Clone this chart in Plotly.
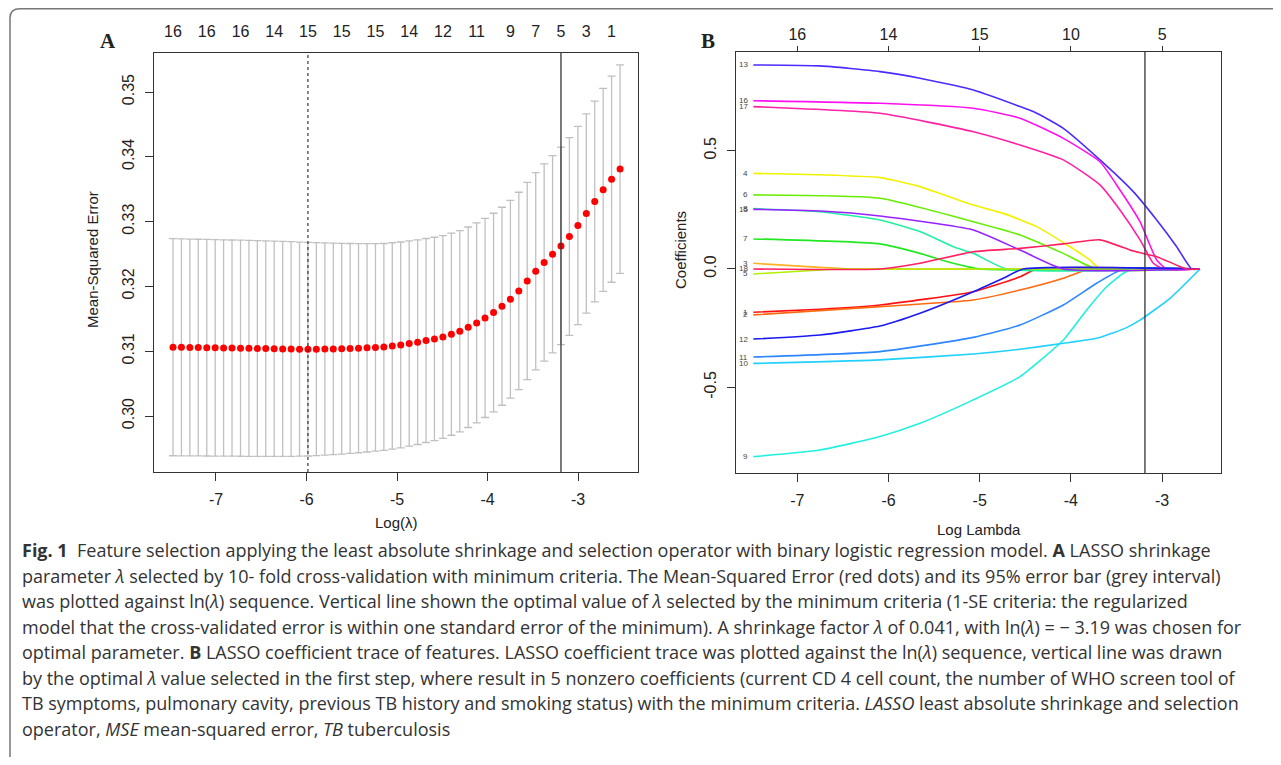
import plotly.graph_objects as go

# ---- Panel A: cross-validation curve ----
log_lambda = [-7.475, -7.382, -7.289, -7.196, -7.102, -7.009, -6.916, -6.823, -6.729, -6.636,
              -6.543, -6.450, -6.357, -6.263, -6.170, -6.077, -5.984, -5.891, -5.797, -5.704,
              -5.611, -5.518, -5.425, -5.331, -5.238, -5.145, -5.052, -4.959, -4.865, -4.772,
              -4.679, -4.586, -4.493, -4.399, -4.306, -4.213, -4.120, -4.027, -3.933, -3.840,
              -3.747, -3.654, -3.561, -3.467, -3.374, -3.281, -3.188, -3.095, -3.001, -2.908,
              -2.815, -2.722, -2.629, -2.535]
mse = [0.31062, 0.31060, 0.31058, 0.31056, 0.31054, 0.31052, 0.31050, 0.31048, 0.31046, 0.31044,
       0.31042, 0.31040, 0.31038, 0.31036, 0.31034, 0.31032, 0.31031, 0.31032, 0.31033, 0.31035,
       0.31038, 0.31042, 0.31047, 0.31053, 0.31059, 0.31066, 0.31082, 0.31097, 0.31119, 0.31139,
       0.31165, 0.31190, 0.31220, 0.31262, 0.31309, 0.31370, 0.31437, 0.31514, 0.31597, 0.31694,
       0.31802, 0.31930, 0.32085, 0.32235, 0.32369, 0.32497, 0.32625, 0.32770, 0.32940, 0.33125,
       0.33310, 0.33490, 0.33654, 0.33810]
mse_sd = [0.01675, 0.01674, 0.01673, 0.01672, 0.01671, 0.01670, 0.01669, 0.01668, 0.01667, 0.01666,
          0.01665, 0.01664, 0.01662, 0.01659, 0.01656, 0.01652, 0.01648, 0.01643, 0.01638, 0.01632,
          0.01626, 0.01620, 0.01614, 0.01608, 0.01602, 0.01596, 0.01592, 0.01588, 0.01584, 0.01579,
          0.01574, 0.01569, 0.01564, 0.01559, 0.01553, 0.01547, 0.01542, 0.01537, 0.01532, 0.01528,
          0.01525, 0.01523, 0.01522, 0.01522, 0.01522, 0.01522, 0.01523, 0.01526, 0.01531, 0.01538,
          0.01550, 0.01566, 0.01590, 0.01608]
nz_at = [-7.475, -7.102, -6.729, -6.357, -5.984, -5.611, -5.238, -4.865, -4.493, -4.120,
         -3.747, -3.467, -3.188, -2.908, -2.629]
nz_labels = ["16", "16", "16", "14", "15", "15", "15", "14", "12", "11", "9", "7", "5", "3", "1"]
lambda_min = -5.984
lambda_opt = -3.188

# ---- Panel B: coefficient paths (log lambda, coefficient) ----
b_ticks = [-7, -6, -5, -4, -3]
b_nz_labels = ["16", "14", "15", "10", "5"]
v1 = [(-7.482, -0.183), (-6.751, -0.170), (-6.093, -0.152), (-5.070, -0.096), (-4.558, -0.033), (-4.375, 0.0), (-2.584, 0.0)]
v2 = [(-7.482, -0.194), (-6.093, -0.159), (-5.070, -0.131), (-4.558, -0.089), (-4.083, -0.039), (-3.791, 0.0), (-2.584, 0.0)]
v3 = [(-7.482, 0.024), (-6.751, 0.007), (-6.386, 0.0), (-2.584, 0.0)]
v4 = [(-7.482, 0.404), (-6.093, 0.386), (-5.655, 0.348), (-5.070, 0.270), (-4.741, 0.235), (-4.375, 0.179),
      (-4.010, 0.094), (-3.791, 0.038), (-3.681, 0.0), (-2.584, 0.0)]
v5 = [(-7.482, -0.021), (-6.751, -0.004), (-6.568, 0.0), (-2.584, 0.0)]
v6 = [(-7.482, 0.313), (-6.093, 0.299), (-5.070, 0.200), (-4.558, 0.144), (-4.083, 0.066), (-3.717, 0.0), (-2.584, 0.0)]
v7 = [(-7.482, 0.127), (-6.093, 0.106), (-5.655, 0.066), (-5.289, 0.024), (-4.997, 0.0), (-2.584, 0.0)]
v8 = [(-7.482, 0.255), (-6.751, 0.242), (-6.093, 0.207), (-5.655, 0.158), (-5.289, 0.094), (-5.070, 0.066),
      (-4.704, 0.0), (-2.584, 0.0)]
v9 = [(-7.482, -0.793), (-6.751, -0.765), (-6.093, -0.708), (-5.655, -0.652), (-5.070, -0.553), (-4.558, -0.455),
      (-4.083, -0.300), (-3.827, -0.173), (-3.608, -0.075), (-3.425, -0.018), (-3.316, 0.0), (-2.584, 0.0)]
v10 = [(-7.482, -0.399), (-6.093, -0.384), (-5.070, -0.359), (-4.558, -0.339), (-4.083, -0.314), (-3.717, -0.293),
       (-3.407, -0.251), (-3.242, -0.216), (-2.913, -0.124), (-2.584, 0.0)]
v11 = [(-7.482, -0.372), (-6.093, -0.349), (-5.070, -0.289), (-4.558, -0.237), (-4.083, -0.152), (-3.717, -0.060),
       (-3.425, 0.0), (-2.584, 0.0)]
v12 = [(-7.482, -0.296), (-6.751, -0.279), (-6.093, -0.241), (-5.655, -0.187), (-5.070, -0.096), (-4.741, -0.039),
       (-4.521, 0.0), (-2.584, 0.0)]
v13 = [(-7.482, 0.862), (-6.751, 0.858), (-6.093, 0.834), (-5.655, 0.806), (-5.070, 0.756), (-4.558, 0.686),
       (-4.375, 0.658), (-4.083, 0.594), (-3.681, 0.461), (-3.316, 0.327), (-3.059, 0.207), (-2.840, 0.094),
       (-2.675, 0.0), (-2.584, 0.0)]
v15 = [(-7.482, 0.252), (-6.751, 0.245), (-6.093, 0.224), (-5.070, 0.165), (-4.558, 0.080), (-4.083, 0.0), (-2.584, 0.0)]
v16 = [(-7.482, 0.711), (-6.093, 0.700), (-5.070, 0.679), (-4.558, 0.637), (-4.083, 0.552), (-3.681, 0.453),
       (-3.462, 0.334), (-3.242, 0.200), (-3.059, 0.038), (-2.949, 0.0), (-2.584, 0.0)]
v17 = [(-7.482, 0.686), (-6.093, 0.658), (-5.070, 0.580), (-4.558, 0.524), (-4.083, 0.461), (-3.681, 0.355),
       (-3.462, 0.249), (-3.242, 0.123), (-3.096, 0.024), (-2.985, 0.0), (-2.584, 0.0)]
v18 = [(-7.482, 0.0), (-6.093, 0.0), (-5.655, 0.024), (-5.070, 0.073), (-4.558, 0.087), (-4.083, 0.106),
       (-3.681, 0.123), (-3.316, 0.076), (-3.059, 0.052), (-2.730, 0.0), (-2.584, 0.0)]

# draw order (later on top) and colours
paths = [("1", v1, "#FF1010"), ("2", v2, "#FF6A10"), ("3", v3, "#FFB020"), ("4", v4, "#F2F200"),
         ("6", v6, "#66EE00"), ("7", v7, "#22E822"), ("8", v8, "#20F0A0"), ("9", v9, "#20F0E0"),
         ("10", v10, "#20D0FF"), ("11", v11, "#2E86FF"), ("13", v13, "#4B2BFF"), ("16", v16, "#FF10F0"),
         ("17", v17, "#FF20A8"), ("5", v5, "#B0F000"), ("12", v12, "#1A1AF0"), ("15", v15, "#9A20FF"),
         ("18", v18, "#FF2060")]

# the page body has an 8px margin, so the figure is placed at (8, 8) in the window
OFF = 8
W, H = 1265, 749
def px(x):
    return (x - OFF) / W
def py(y):
    return 1 - (y - OFF) / H

AX = "Liberation Sans, Arial, sans-serif"
tickfont = dict(family=AX, size=16, color="#222")

fig = go.Figure()

fig.add_trace(go.Scatter(
    x=log_lambda, y=mse, mode="markers", xaxis="x", yaxis="y",
    marker=dict(color="#FF0000", size=7),
    error_y=dict(type="data", array=mse_sd, color="#C0C0C0", thickness=1.3, width=4),
    showlegend=False, hoverinfo="skip"))

for name, pts, col in paths:
    fig.add_trace(go.Scatter(
        x=[p[0] for p in pts], y=[p[1] for p in pts], mode="lines",
        xaxis="x2", yaxis="y2", line=dict(color=col, width=1.6, shape="spline", smoothing=0.5),
        showlegend=False, hoverinfo="skip"))

# invisible traces so that the top (number of nonzero) axes are drawn
fig.add_trace(go.Scatter(x=nz_at, y=mse[:len(nz_at)], xaxis="x3", yaxis="y", mode="markers",
                         marker=dict(opacity=0), showlegend=False, hoverinfo="skip"))
fig.add_trace(go.Scatter(x=b_ticks, y=[0] * len(b_ticks), xaxis="x4", yaxis="y2", mode="markers",
                         marker=dict(opacity=0), showlegend=False, hoverinfo="skip"))

axis_common = dict(showgrid=False, zeroline=False, showline=True, mirror=True, linecolor="#333",
                   linewidth=1.2, ticks="outside", ticklen=8, tickcolor="#333", tickfont=tickfont)

fig.update_layout(
    width=W, height=H, margin=dict(l=0, r=0, t=0, b=0),
    paper_bgcolor="white", plot_bgcolor="white", showlegend=False,
    xaxis=dict(domain=[px(154), px(638)], range=[-7.685, -2.337], anchor="y",
               tickvals=b_ticks, ticktext=["-7", "-6", "-5", "-4", "-3"],
               ticklabelstandoff=5, **axis_common),
    yaxis=dict(domain=[py(472), py(53)], range=[0.29136, 0.35602], anchor="x",
               tickvals=[0.30, 0.31, 0.32, 0.33, 0.34, 0.35],
               ticktext=["0.30", "0.31", "0.32", "0.33", "0.34", "0.35"],
               tickangle=-90, ticklabelstandoff=5, **axis_common),
    # top axis of A: labels only (ticks drawn transparent just to set the offset)
    xaxis3=dict(overlaying="x", side="top", anchor="y", range=[-7.685, -2.337],
                tickvals=nz_at, ticktext=nz_labels, ticks="outside", ticklen=9,
                tickcolor="rgba(0,0,0,0)", showgrid=False, zeroline=False,
                showline=False, tickfont=tickfont, ticklabelstandoff=0),
    xaxis2=dict(domain=[px(736), px(1221)], range=[-7.672, -2.354], anchor="y2",
                tickvals=b_ticks, ticktext=["-7", "-6", "-5", "-4", "-3"],
                ticklabelstandoff=5, **axis_common),
    yaxis2=dict(domain=[py(473), py(52)], range=[-0.862, 0.9168], anchor="x2",
                tickvals=[-0.5, 0.0, 0.5], ticktext=["-0.5", "0.0", "0.5"],
                tickangle=-90, ticklabelstandoff=5, **axis_common),
    xaxis4=dict(overlaying="x2", side="top", anchor="y2", range=[-7.672, -2.354],
                tickvals=b_ticks, ticktext=b_nz_labels,
                ticks="outside", ticklen=5, tickcolor="#333", showgrid=False, zeroline=False,
                showline=False, tickfont=tickfont, ticklabelstandoff=0),
)

# vertical reference lines
fig.add_shape(type="line", xref="x", yref="y domain", x0=lambda_min, x1=lambda_min, y0=0, y1=1,
              line=dict(color="#111", width=1, dash="dot"))
fig.add_shape(type="line", xref="x", yref="y domain", x0=lambda_opt, x1=lambda_opt, y0=0, y1=1,
              line=dict(color="#333", width=1.3))
fig.add_shape(type="line", xref="x2", yref="y2 domain", x0=lambda_opt, x1=lambda_opt, y0=0, y1=1,
              line=dict(color="#333", width=1.3))

# variable labels at the left end of each path
for name, pts, col in paths:
    fig.add_annotation(x=pts[0][0], y=pts[0][1], xref="x2", yref="y2", text=name,
                       showarrow=False, xanchor="right", yanchor="middle", xshift=-3,
                       font=dict(family=AX, size=8, color="#444"))


def label(x, y, text, size=15, angle=0, family=AX):
    fig.add_annotation(x=px(x), y=py(y), xref="paper", yref="paper", text=text, textangle=angle,
                       showarrow=False, xanchor="center", yanchor="middle",
                       font=dict(family=family, size=size, color="#222"))


# panel letters and axis titles
SERIF = "Liberation Serif, Times New Roman, serif"
label(108, 41, "<b>A</b>", size=21, family=SERIF)
label(708, 41, "<b>B</b>", size=21, family=SERIF)
label(92, 260, "Mean-Squared Error", angle=-90)
label(396, 522, "Log(λ)")
label(680, 250, "Coefficients", angle=-90)
label(979, 529, "Log Lambda")

# caption
caption = [
    "<b>Fig. 1</b>  Feature selection applying the least absolute shrinkage and selection operator with binary logistic regression model. <b>A</b> LASSO shrinkage",
    "parameter <i>λ</i> selected by 10- fold cross-validation with minimum criteria. The Mean-Squared Error (red dots) and its 95% error bar (grey interval)",
    "was plotted against ln(<i>λ</i>) sequence. Vertical line shown the optimal value of <i>λ</i> selected by the minimum criteria (1-SE criteria: the regularized",
    "model that the cross-validated error is within one standard error of the minimum). A shrinkage factor <i>λ</i> of 0.041, with ln(<i>λ</i>) = − 3.19 was chosen for",
    "optimal parameter. <b>B</b> LASSO coefficient trace of features. LASSO coefficient trace was plotted against the ln(<i>λ</i>) sequence, vertical line was drawn",
    "by the optimal <i>λ</i> value selected in the first step, where result in 5 nonzero coefficients (current CD 4 cell count, the number of WHO screen tool of",
    "TB symptoms, pulmonary cavity, previous TB history and smoking status) with the minimum criteria. <i>LASSO</i> least absolute shrinkage and selection",
    "operator, <i>MSE</i> mean-squared error, <i>TB</i> tuberculosis",
]
for i, line in enumerate(caption):
    fig.add_annotation(x=px(20), y=py(550 + i * 25.5), xref="paper", yref="paper", text=line,
                       showarrow=False, xanchor="left", yanchor="middle",
                       font=dict(family="Open Sans, sans-serif", size=18, color="#333"))

# rounded frame around the figure
fig.add_shape(type="path", xref="paper", yref="paper", line=dict(color="#777", width=1.5),
              path=f"M 1 {py(8.8)} L {px(20)} {py(8.8)} Q {px(10)} {py(8.8)} {px(10)} {py(18)} "
                   f"L {px(10)} {py(757)}")

fig.write_html("out.html")
